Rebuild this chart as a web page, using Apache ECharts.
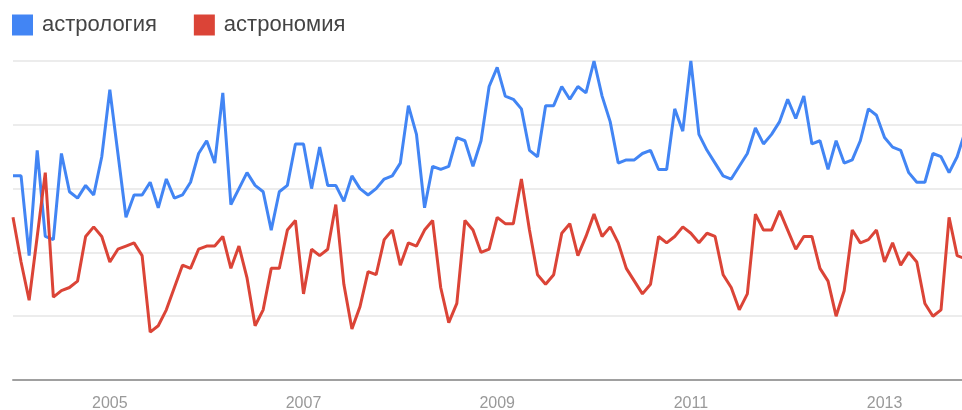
<!DOCTYPE html>
<html>
<head>
<meta charset="utf-8">
<script src="https://cdn.jsdelivr.net/npm/echarts@6/dist/echarts.min.js"></script>
<style>
  html, body { margin: 0; padding: 0; background: #fff; }
  #main { width: 962px; height: 410px; }
</style>
</head>
<body>
<div id="main"></div>
<script>
// monthly values, starting Jan 2004
var startYear = 2004;
var seriesNames = ['астрология', 'астрономия'];
var yearLabels = ['2005', '2007', '2009', '2011', '2013'];

var astrology = [
  64, 64, 39, 72, 45, 44, 71, 59, 57, 61, 58, 70,
  91, 71, 51, 58, 58, 62, 54, 63, 57, 58, 62, 71,
  75, 68, 90, 55, 60, 65, 61, 59, 47, 59, 61, 74,
  74, 60, 73, 61, 61, 56, 64, 60, 58, 60, 63, 64,
  68, 86, 77, 54, 67, 66, 67, 76, 75, 67, 75, 92,
  98, 89, 88, 85, 72, 70, 86, 86, 92, 88, 92, 90,
  100, 89, 81, 68, 69, 69, 71, 72, 66, 66, 85, 78,
  100, 77, 72, 68, 64, 63, 67, 71, 79, 74, 77, 81,
  88, 82, 89, 74, 75, 66, 75, 68, 69, 75, 85, 83,
  76, 73, 72, 65, 62, 62, 71, 70, 65, 70, 78
];
var astronomy = [
  51, 37, 25, 45, 65, 26, 28, 29, 31, 45, 48, 45,
  37, 41, 42, 43, 39, 15, 17, 22, 29, 36, 35, 41,
  42, 42, 45, 35, 42, 32, 17, 22, 35, 35, 47, 50,
  27, 41, 39, 41, 55, 30, 16, 23, 34, 33, 44, 47,
  36, 43, 42, 47, 50, 29, 18, 24, 50, 47, 40, 41,
  51, 49, 49, 63, 47, 33, 30, 33, 46, 49, 39, 45,
  52, 45, 48, 43, 35, 31, 27, 30, 45, 43, 45, 48,
  46, 43, 46, 45, 33, 29, 22, 27, 52, 47, 47, 53,
  47, 41, 45, 45, 35, 31, 20, 28, 47, 43, 44, 47,
  37, 43, 36, 40, 37, 24, 20, 22, 51, 39, 38
];

function toPoints(arr) {
  var out = [];
  for (var i = 0; i < arr.length; i++) {
    out.push([i, arr[i]]);
  }
  return out;
}

var myChart = echarts.init(document.getElementById('main'));

var option = {
  animation: false,
  color: ['#4285f4', '#db4437'],
  textStyle: { fontFamily: 'Liberation Sans, Arial, sans-serif' },
  legend: {
    left: 7,
    top: 9,
    icon: 'rect',
    itemWidth: 21,
    itemHeight: 21,
    itemGap: 37,
    textStyle: { fontSize: 22, color: '#444', padding: [0, 0, 0, 4] },
    data: seriesNames
  },
  grid: { left: 13, right: 0, top: 61, bottom: 30, outerBoundsMode: 'none' },
  xAxis: {
    type: 'value',
    min: 0,
    max: 117.6,
    interval: 12,
    axisLine: { show: true, lineStyle: { color: '#a0a0a0', width: 2 } },
    axisTick: { show: false },
    splitLine: { show: false },
    axisLabel: {
      margin: 16,
      fontSize: 16,
      color: '#999',
      formatter: function (v) {
        var k = Math.round(v / 12);
        var label = String(startYear + k);
        return yearLabels.indexOf(label) >= 0 && v === k * 12 ? label : '';
      }
    }
  },
  yAxis: {
    type: 'value',
    min: 0,
    max: 100,
    interval: 20,
    axisLine: { show: false },
    axisTick: { show: false },
    axisLabel: { show: false },
    splitLine: { lineStyle: { color: '#e6e6e6', width: 1.5 } }
  },
  series: [
    {
      name: seriesNames[0],
      type: 'line',
      data: toPoints(astrology),
      showSymbol: false,
      lineStyle: { width: 3 }
    },
    {
      name: seriesNames[1],
      type: 'line',
      data: toPoints(astronomy),
      showSymbol: false,
      lineStyle: { width: 3 }
    }
  ]
};

myChart.setOption(option);
</script>
</body>
</html>
